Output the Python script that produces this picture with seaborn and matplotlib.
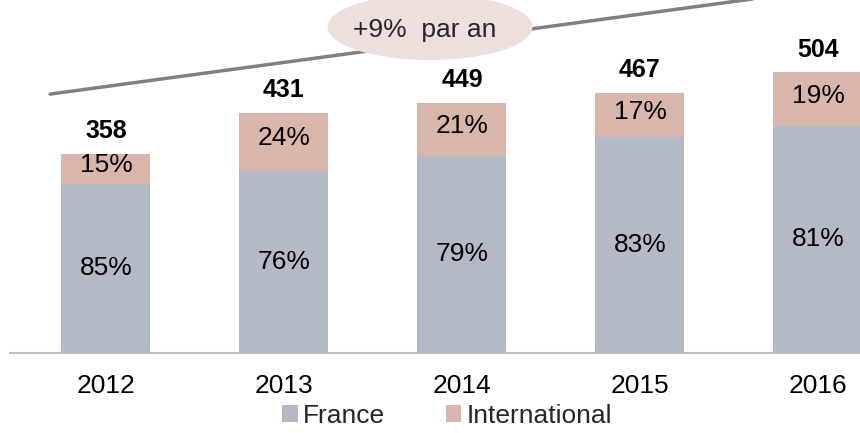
import matplotlib
matplotlib.use("Agg")
import matplotlib.pyplot as plt
from matplotlib.patches import Ellipse, Patch
import seaborn as sns
import pandas as pd

years = ["2012", "2013", "2014", "2015", "2016"]
totals = [358, 431, 449, 467, 504]
france_pct = [85, 76, 79, 83, 81]
intl_pct = [15, 24, 21, 17, 19]
series_names = ["France", "International"]
growth_label = "+9%  par an"

c_fr = "#B3BAC6"
c_int = "#D9B6AC"

sns.set_theme(style="white")
plt.rcParams["font.family"] = ["Liberation Sans", "DejaVu Sans"]

france_vals = [t * p / 100 for t, p in zip(totals, france_pct)]
df = pd.DataFrame({"year": years, "total": totals, "france": france_vals})

fig = plt.figure(figsize=(8.6, 4.33), dpi=100)
ax = fig.add_axes([10 / 860, 1 - 353 / 433, 850 / 860, 353 / 433])

sns.barplot(data=df, x="year", y="total", order=years, color=c_int,
            width=0.5, saturation=1, ax=ax, zorder=2, linewidth=0)
sns.barplot(data=df, x="year", y="france", order=years, color=c_fr,
            width=0.5, saturation=1, ax=ax, zorder=3, linewidth=0)

ax.set_xlim(-0.539, 4.236)
ax.set_ylim(0, 634)

fs = 19
for i, (t, f, pf, pi) in enumerate(zip(totals, france_vals, france_pct, intl_pct)):
    ax.text(i, f / 2, f"{pf}%", ha="center", va="center", fontsize=fs, color="black", zorder=5)
    ax.text(i, f + (t - f) / 2 + 6, f"{pi}%", ha="center", va="center", fontsize=fs, color="black", zorder=5)
    ax.text(i, t + 41, f"{t}", ha="center", va="center", fontsize=fs - 1,
            fontweight="bold", color="black", zorder=5)

ax.set_xlabel("")
ax.set_ylabel("")
ax.set_yticks([])
ax.tick_params(axis="x", length=0, pad=15, labelsize=fs, labelcolor="black")
for s in ["top", "left", "right"]:
    ax.spines[s].set_visible(False)
ax.spines["bottom"].set_color("#BFBFBF")
ax.spines["bottom"].set_linewidth(1.5)

# trend line
ax.plot([-0.314, 4.236], [465, 662], color="#808080", lw=2.5, zorder=1, clip_on=True)

ell = Ellipse((430 / 860, 1 - 27 / 433), 205 / 860, 66 / 433, transform=fig.transFigure,
              facecolor="#EFDFDC", edgecolor="none", zorder=10)
fig.patches.append(ell)
fig.text(425 / 860, 1 - 30 / 433, growth_label, ha="center", va="center", fontsize=fs, zorder=11)

handles = [Patch(facecolor=c_fr, edgecolor="none", label=series_names[0]),
           Patch(facecolor=c_int, edgecolor="none", label=series_names[1])]
fig.legend(handles=handles, loc="center", bbox_to_anchor=(447 / 860, 1 - 416 / 433), ncol=2,
           frameon=False, fontsize=fs, handlelength=0.6, handleheight=0.6,
           handletextpad=0.2, columnspacing=2.3, borderpad=0)

fig.savefig("out.png", dpi=100)
